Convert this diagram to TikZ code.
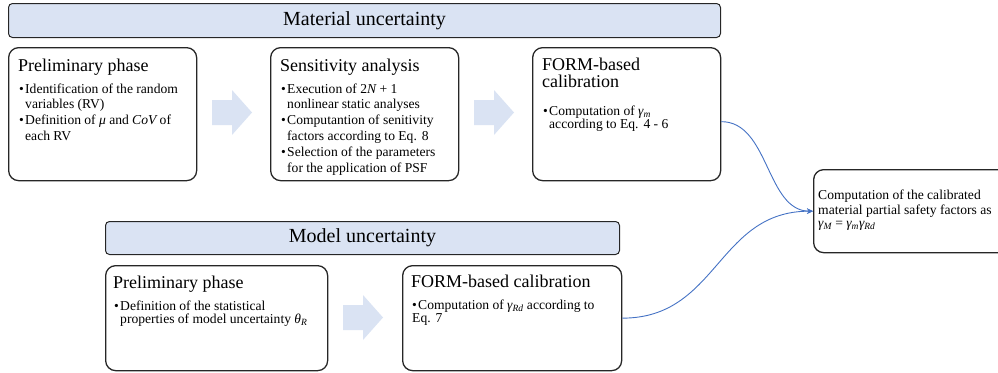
\documentclass[tikz,border=0pt]{standalone}
\usepackage{fontspec}
\setmainfont{Liberation Serif}
\usetikzlibrary{arrows.meta}
\definecolor{bannerfill}{HTML}{DAE3F3}
\definecolor{flowfill}{HTML}{DAE3F3}
\definecolor{linkblue}{HTML}{4472C4}
\definecolor{edgegray}{HTML}{262626}
\newcommand\bitem[1]{\hangindent=6pt\hangafter=1\noindent\makebox[6pt][l]{•}#1\par}
\newcommand\nl{\hfil\break}
\newcommand\gsub[1]{{\itshape γ}\textsubscript{\itshape #1}}
\tikzset{
  banner/.style={draw=edgegray, line width=1pt, fill=bannerfill, rounded corners=4pt, anchor=north west, inner sep=0pt},
  stage/.style={draw=edgegray, line width=1.3pt, rounded corners=10pt, anchor=north west, inner sep=0pt},
  bannertitle/.style={inner sep=0pt, font=\fontsize{20}{22}\selectfont},
  heading/.style={anchor=base west, inner sep=0pt, align=left, font=\fontsize{18}{17}\selectfont},
  bullets/.style={anchor=base west, inner sep=0pt, text width=#1, align=left},
  flow/.style={fill=flowfill, draw=none},
  link/.style={draw=linkblue, line width=0.9pt, -{Stealth[length=6pt,width=5.5pt]}},
  flowarrow/.pic={\path[flow] (0,-12.5) -- (20,-12.5) -- (20,-22.5) -- (40,0) -- (20,22.5) -- (20,12.5) -- (0,12.5) -- cycle;}
}
\begin{document}
\begin{tikzpicture}[x=1pt,y=-1pt]
\clip (0,0) rectangle (998,372);
% banners
\node[banner, minimum width=712pt, minimum height=34pt] (ban1) at (8,3) {};
\node[bannertitle] (ban1t) at (ban1.center) {Material uncertainty};
\node[banner, minimum width=514pt, minimum height=33pt] (ban2) at (105,221) {};
\node[bannertitle] (ban2t) at (ban2.center) {Model uncertainty};
% boxes
\node[stage, minimum width=188pt, minimum height=133pt] (b1) at (8,47) {};
\node[stage, minimum width=188pt, minimum height=133pt] (b2) at (270,47) {};
\node[stage, minimum width=188pt, minimum height=133pt] (b3) at (532,47) {};
\node[stage, minimum width=222pt, minimum height=105pt] (b4) at (105,265) {};
\node[stage, minimum width=219pt, minimum height=105pt] (b5) at (402,265) {};
\node[stage, minimum width=200pt, minimum height=83pt] (res) at (813,169) {};
% headings
\node[heading] (h1) at (18,71) {Preliminary phase};
\node[heading] (h2) at (280,71) {Sensitivity analysis};
\node[heading] (h3) at (542,87) {FORM-based\\calibration};
\node[heading] (h4) at (113,288) {Preliminary phase};
\node[heading] (h5) at (411,287) {FORM-based calibration};
% bullet texts
\node[bullets=180pt] (t1) at (19,93) {\fontsize{13.6}{15.5}\selectfont\setlength\parskip{0.5pt}%
  \bitem{Identification of the random\nl variables (RV)}%
  \bitem{Definition of {\itshape μ} and {\itshape CoV} of\nl each RV}};
\node[bullets=180pt] (t2) at (281,93) {\fontsize{13.6}{15.2}\selectfont\setlength\parskip{1.5pt}%
  \bitem{Execution of 2{\itshape N} + 1\nl nonlinear static analyses}%
  \bitem{Computantion of senitivity\nl factors according to Eq. 8}%
  \bitem{Selection of the parameters\nl for the application of PSF}};
\node[bullets=180pt] (t3) at (543,115) {\fontsize{13.6}{13}\selectfont%
  \bitem{Computation of \gsub{m}\nl according to Eq. 4 - 6}};
\node[bullets=215pt] (t4) at (114,310) {\fontsize{13.6}{13.5}\selectfont%
  \bitem{Definition of the statistical\nl properties of model uncertainty {\itshape θ}\textsubscript{\itshape R}}};
\node[bullets=210pt] (t5) at (412,309) {\fontsize{13.6}{13.5}\selectfont%
  \noindent\makebox[6pt][l]{•}Computation of \gsub{Rd} according to\nl Eq. 7\par};
\node[bullets=190pt] (rt) at (818,199) {\fontsize{13.6}{15.5}\selectfont%
  Computation of the calibrated\\material partial safety factors as\\[1pt]\gsub{M} = \gsub{m}\gsub{Rd}};
% flow arrows
\pic at (212,112.5) {flowarrow};
\pic at (474,112.5) {flowarrow};
\pic at (343,317.5) {flowarrow};
% links
\coordinate (s1) at ([yshift=-7.5pt]b3.east);
\draw[link] (s1) .. controls +(48,0) and +(-47,0) .. (res.west);
\draw[link] (b5.east) .. controls +(96,0) and +(-96,0) .. (res.west);
\end{tikzpicture}
\end{document}
